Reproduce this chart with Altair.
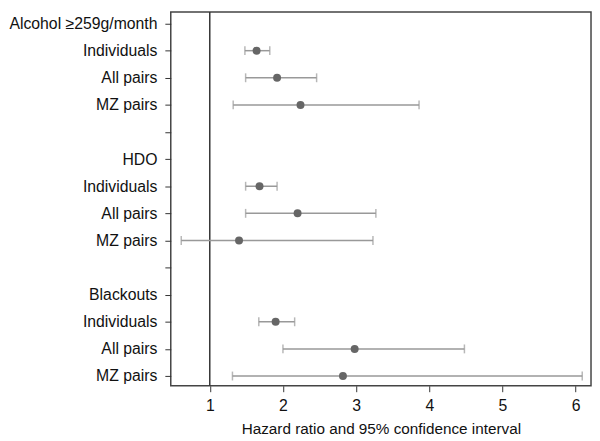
import altair as alt
import pandas as pd

row_labels = ["Alcohol ≥259g/month", "Individuals", "All pairs", "MZ pairs", "",
              "HDO", "Individuals", "All pairs", "MZ pairs", "",
              "Blackouts", "Individuals", "All pairs", "MZ pairs"]
row_index = [1, 2, 3, 6, 7, 8, 11, 12, 13]
hr = [1.64, 1.92, 2.24, 1.68, 2.20, 1.40, 1.90, 2.98, 2.82]
lo = [1.48, 1.49, 1.32, 1.49, 1.49, 0.61, 1.67, 2.00, 1.31]
hi = [1.82, 2.46, 3.86, 1.92, 3.27, 3.23, 2.16, 4.48, 6.09]
x_ticks = [1, 2, 3, 4, 5, 6]

df = pd.DataFrame({"row": row_index, "hr": hr, "lo": lo, "hi": hi})

label_js = "[" + ",".join("'" + s + "'" for s in row_labels) + "]"

xscale = alt.Scale(domain=[0.467, 6.21], nice=False, zero=False)
yscale = alt.Scale(domain=[-0.43, 13.36], reverse=True, nice=False, zero=False)

yaxis = alt.Axis(values=list(range(len(row_labels))), labelExpr=label_js + "[datum.value]",
                 title=None, grid=False, labelFontSize=16, labelFont="Liberation Sans",
                 labelColor="#111", tickColor="#333", tickSize=6, labelPadding=8,
                 domain=False, labelBound=False, labelOverlap=False)
xaxis = alt.Axis(values=x_ticks, format="d", title="Hazard ratio and 95% confidence interval",
                 grid=False, labelFontSize=16, labelFont="Liberation Sans", labelColor="#111",
                 titleFont="Liberation Sans", titleFontSize=15.5, titleFontWeight="normal",
                 titleColor="#111", tickColor="#333", tickSize=6, labelPadding=6,
                 titlePadding=8, domain=False, labelOverlap=False)

base = alt.Chart(df)
X = lambda f: alt.X(f, scale=xscale, axis=xaxis)
Y = alt.Y("row:Q", scale=yscale, axis=yaxis)

rules = base.mark_rule(color="#999999", strokeWidth=1.5).encode(x=X("lo:Q"), x2="hi:Q", y=Y)
cap_lo = base.mark_tick(color="#999999", orient="vertical", size=9, thickness=1.5).encode(
    x=X("lo:Q"), y=Y)
cap_hi = base.mark_tick(color="#999999", orient="vertical", size=9, thickness=1.5).encode(
    x=X("hi:Q"), y=Y)
points = base.mark_circle(color="#666666", size=65, opacity=1).encode(x=X("hr:Q"), y=Y)

ref = alt.Chart(pd.DataFrame({"v": [1]})).mark_rule(color="#333333", strokeWidth=1.5).encode(
    x=X("v:Q"))

chart = alt.layer(ref, rules, cap_lo, cap_hi, points).properties(
    width=426, height=379, background="white",
    padding={"left": 0, "top": 0, "right": 1, "bottom": 0}
).configure_view(stroke="#444444", strokeWidth=1.5).configure_axis(labelOverlap=False)

chart.save("out.html", embed_options={"renderer": "svg", "actions": False})
